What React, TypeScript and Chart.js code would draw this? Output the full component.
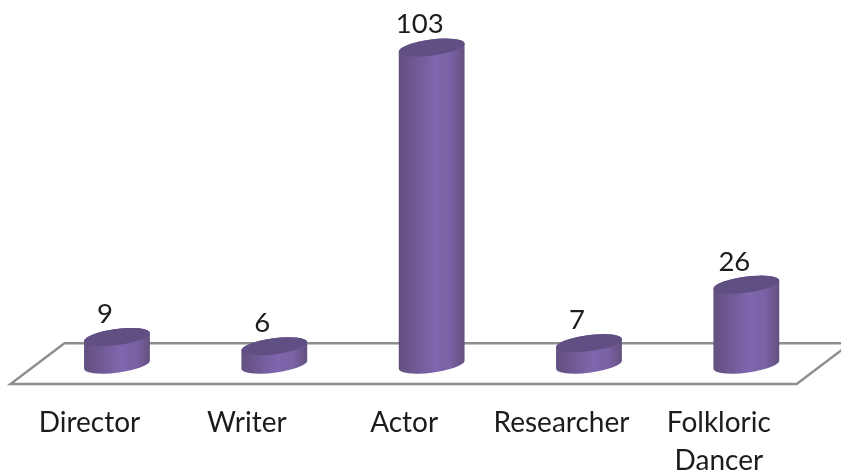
import React, { useEffect, useRef } from "react";
import { Chart, registerables } from "chart.js";

Chart.register(...registerables);

const categories: (string | string[])[] = ["Director", "Writer", "Actor", "Researcher", ["Folkloric", "Dancer"]];
const values: number[] = [9, 6, 103, 7, 26];
const BAR_DARK = "#63507f";
const BAR_MID = "#7f66ad";
const TOP_COLOR = "#5f4f82";
const FLOOR_COLOR = "#8b8f8d";
const TEXT_COLOR = "#1c1c1c";
const FONT = "Lato, Carlito, sans-serif";
const FONT_SIZE = 27.5;
const TICK_FONT_SIZE = 28;

const floorPlugin = {
  id: "floor",
  beforeDatasetsDraw(chart: any) {
    const { ctx, scales } = chart;
    const base = scales.y.getPixelForValue(0);
    const xs = scales.x;
    const step = xs.getPixelForValue(1) - xs.getPixelForValue(0);
    const left = xs.getPixelForValue(0) - step * 0.677;
    const right = xs.getPixelForValue(4) + step * 0.32;
    const front = base + 19.3;
    const back = base - 21.5;
    const skew = 54;
    ctx.save();
    ctx.beginPath();
    ctx.moveTo(left, front);
    ctx.lineTo(right, front);
    ctx.lineTo(right + skew, back);
    ctx.lineTo(left + skew, back);
    ctx.closePath();
    ctx.strokeStyle = FLOOR_COLOR;
    ctx.lineWidth = 2.4;
    ctx.lineJoin = "miter";
    ctx.stroke();
    ctx.restore();
  },
};

const cylinderPlugin = {
  id: "cylinders",
  beforeDatasetDraw(chart: any, args: any) {
    const { ctx } = chart;
    const meta = chart.getDatasetMeta(args.index);
    const rot = -0.13;
    const b = 8;
    meta.data.forEach((bar: any, i: number) => {
      const { x, y, base, width } = bar.getProps(["x", "y", "base", "width"], true);
      const half = width / 2;
      const a = half * 1.005;
      const t0 = Math.atan(-(b / a) * Math.tan(rot));
      ctx.save();
      const grad = ctx.createLinearGradient(x - half, 0, x + half, 0);
      grad.addColorStop(0, BAR_DARK);
      grad.addColorStop(0.2, "#6c578f");
      grad.addColorStop(0.55, BAR_MID);
      grad.addColorStop(0.78, "#7a62a6");
      grad.addColorStop(1, BAR_DARK);
      ctx.beginPath();
      ctx.ellipse(x, base, a, b, rot, t0, t0 + Math.PI);
      ctx.ellipse(x, y, a, b, rot, t0 + Math.PI, t0 + Math.PI * 2);
      ctx.closePath();
      ctx.fillStyle = grad;
      ctx.fill();
      ctx.beginPath();
      ctx.ellipse(x, y, a, b, rot, 0, Math.PI * 2);
      ctx.fillStyle = TOP_COLOR;
      ctx.fill();
      ctx.font = `${FONT_SIZE}px ${FONT}`;
      ctx.fillStyle = TEXT_COLOR;
      ctx.textAlign = "center";
      ctx.textBaseline = "middle";
      ctx.fillText(String(values[i]), x - 12, y - 23);
      ctx.restore();
    });
    return false;
  },
};

export default function App() {
  const ref = useRef<HTMLCanvasElement>(null);
  useEffect(() => {
    const chart = new Chart(ref.current!, {
      type: "bar",
      data: {
        labels: categories as any,
        datasets: [{ data: values, backgroundColor: BAR_MID, barThickness: 66 }],
      },
      options: {
        animation: false,
        responsive: false,
        layout: { padding: { left: 38.3, right: 16, top: 26, bottom: 0 } },
        plugins: { legend: { display: false }, tooltip: { enabled: false } },
        scales: {
          x: {
            grid: { display: false },
            border: { display: false },
            afterFit: (s: any) => { s.height = 109.3; },
            ticks: {
              padding: 32,
              labelOffset: -27.5,
              maxRotation: 0,
              autoSkip: false,
              color: TEXT_COLOR,
              font: { family: FONT, size: TICK_FONT_SIZE, lineHeight: 1.33 },
            },
          },
          y: { display: false, min: 0, max: 110 },
        },
      },
      plugins: [floorPlugin, cylinderPlugin],
    });
    return () => chart.destroy();
  }, []);
  return (
    <div style={{ position: "absolute", left: 0, top: 0, width: 841, height: 474, background: "#fff", overflow: "hidden" }}>
      <canvas ref={ref} width={841} height={474} style={{ display: "block" }} />
    </div>
  );
}
